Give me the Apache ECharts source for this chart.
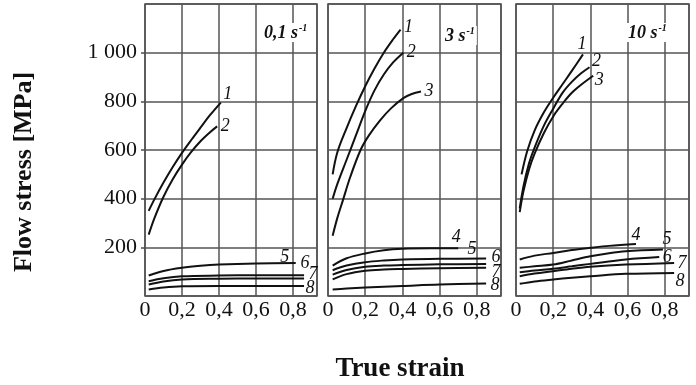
<!DOCTYPE html>
<html>
<head>
<meta charset="utf-8">
<script src="https://cdn.jsdelivr.net/npm/echarts@6/dist/echarts.min.js"></script>
<style>
  html, body { margin: 0; padding: 0; background: #fff; }
  #chart { width: 696px; height: 385px; }
</style>
</head>
<body>
<div id="chart"></div>
<script>
// Flow stress vs. true strain at three strain rates, curves 1-8 per panel.
const rateLabels = ['0,1', '3', '10'];
const strainMax = 0.93;
const stressMax = 1200;

// strain rate 0.1 1/s  — [true strain, flow stress MPa]
const r01_c1 = [[0.02,350],[0.05,396],[0.1,466],[0.15,530],[0.2,588],[0.25,641],[0.3,692],[0.35,742],[0.41,795]];
const r01_c2 = [[0.02,252],[0.05,318],[0.1,408],[0.15,480],[0.2,540],[0.25,592],[0.3,636],[0.35,672],[0.39,697]];
const r01_c5 = [[0.02,84],[0.1,103],[0.2,116],[0.3,124],[0.4,129],[0.6,134],[0.815,136]];
const r01_c6 = [[0.02,61],[0.1,73],[0.2,81],[0.4,84],[0.6,85],[0.86,85]];
const r01_c7 = [[0.02,47],[0.1,60],[0.2,68],[0.4,71],[0.6,72],[0.86,72]];
const r01_c8 = [[0.02,27],[0.1,35],[0.2,40],[0.4,41],[0.6,41],[0.86,41]];

// strain rate 3 1/s
const r3_c1 = [[0.025,500],[0.05,590],[0.1,690],[0.15,780],[0.2,862],[0.25,935],[0.3,1000],[0.35,1055],[0.39,1095]];
const r3_c2 = [[0.025,400],[0.05,460],[0.1,560],[0.15,660],[0.2,760],[0.25,845],[0.3,910],[0.35,960],[0.405,1000]];
const r3_c3 = [[0.025,248],[0.05,320],[0.08,393],[0.12,490],[0.175,600],[0.22,660],[0.28,722],[0.34,772],[0.405,813],[0.45,830],[0.5,840]];
const r3_c4 = [[0.025,125],[0.1,155],[0.2,175],[0.3,188],[0.4,194],[0.55,196],[0.7,196]];
const r3_c5 = [[0.025,106],[0.1,125],[0.2,139],[0.3,146],[0.4,150],[0.6,153],[0.85,154]];
const r3_c6 = [[0.025,88],[0.1,107],[0.2,120],[0.3,125],[0.4,127],[0.6,130],[0.85,132]];
const r3_c7 = [[0.025,68],[0.1,90],[0.2,104],[0.3,109],[0.4,111],[0.6,114],[0.85,116]];
const r3_c8 = [[0.025,27],[0.1,31],[0.2,35],[0.4,41],[0.6,47],[0.85,51]];

// strain rate 10 1/s
const r10_c1 = [[0.03,500],[0.06,595],[0.1,680],[0.15,755],[0.2,815],[0.25,870],[0.3,925],[0.36,993]];
const r10_c2 = [[0.02,360],[0.04,450],[0.07,545],[0.1,610],[0.15,700],[0.2,770],[0.25,835],[0.3,880],[0.35,915],[0.395,940]];
const r10_c3 = [[0.02,345],[0.04,430],[0.07,520],[0.1,585],[0.15,670],[0.2,738],[0.25,790],[0.3,835],[0.35,868],[0.415,905]];
const r10_c4 = [[0.02,150],[0.1,166],[0.2,177],[0.3,189],[0.4,198],[0.5,206],[0.645,214]];
const r10_c5 = [[0.02,116],[0.1,122],[0.2,129],[0.3,146],[0.4,163],[0.5,176],[0.59,184],[0.79,191]];
const r10_c6 = [[0.02,98],[0.1,105],[0.2,112],[0.3,122],[0.4,132],[0.59,150],[0.77,160]];
const r10_c7 = [[0.02,81],[0.1,92],[0.2,102],[0.3,112],[0.4,120],[0.59,129],[0.85,136]];
const r10_c8 = [[0.02,50],[0.1,60],[0.2,68],[0.3,75],[0.4,81],[0.59,91],[0.85,95]];

const SERIF = '"Liberation Serif", "Times New Roman", serif';
const INK = '#111';
const GRIDLINE = '#555';

// panel index, curve number, data, end-label offset [dx, dy]
const curves = [
  [0, '1', r01_c1, [7, -8]], [0, '2', r01_c2, [8, 0]],
  [0, '5', r01_c5, [-11, -6]], [0, '6', r01_c6, [1, -12]],
  [0, '7', r01_c7, [9, -4]], [0, '8', r01_c8, [6, 2]],
  [1, '1', r3_c1, [8, -2]], [1, '2', r3_c2, [8, 0]], [1, '3', r3_c3, [8, 0]],
  [1, '4', r3_c4, [-2, -11]], [1, '5', r3_c5, [-14, -9]], [1, '6', r3_c6, [10, -7]],
  [1, '7', r3_c7, [10, 4]], [1, '8', r3_c8, [9, 2]],
  [2, '1', r10_c1, [-1, -10]], [2, '2', r10_c2, [7, -6]], [2, '3', r10_c3, [6, 4]],
  [2, '4', r10_c4, [0, -9]], [2, '5', r10_c5, [4, -10]], [2, '6', r10_c6, [8, 0]],
  [2, '7', r10_c7, [8, 0]], [2, '8', r10_c8, [6, 8]]
];

const gridBoxes = [
  { left: 145, width: 172 },
  { left: 328, width: 173 },
  { left: 516, width: 173 }
];

const grid = gridBoxes.map(b => ({
  left: b.left, width: b.width, top: 4, height: 292,
  show: true, borderColor: '#4d4d4d', borderWidth: 1.5, backgroundColor: 'transparent'
}));

const strainFmt = v => (v === 0 ? '0' : v.toFixed(1).replace('.', ','));
const stressFmt = v => (v === 1000 ? '1 000' : String(v));

const xAxis = gridBoxes.map((b, i) => ({
  type: 'value', gridIndex: i, min: 0, max: strainMax, interval: 0.2,
  axisLine: { show: false }, axisTick: { show: false },
  splitLine: { show: true, lineStyle: { color: GRIDLINE, width: 1.5 } },
  axisLabel: {
    formatter: strainFmt, showMaxLabel: false, margin: 3,
    fontFamily: SERIF, fontSize: 22, color: INK
  }
}));

const yAxis = gridBoxes.map((b, i) => ({
  type: 'value', gridIndex: i, min: 0, max: stressMax, interval: 200,
  axisLine: { show: false },
  axisTick: { show: i === 0, length: 4, lineStyle: { color: '#4d4d4d', width: 1.5 } },
  splitLine: { show: true, lineStyle: { color: GRIDLINE, width: 1.5 } },
  axisLabel: {
    show: i === 0, formatter: stressFmt, showMinLabel: false, showMaxLabel: false,
    margin: 8, fontFamily: SERIF, fontSize: 22, color: INK
  }
}));

const series = curves.map(([p, id, data, off]) => ({
  type: 'line', xAxisIndex: p, yAxisIndex: p, data: data,
  smooth: 0.35, symbol: 'none', silent: true, z: 3,
  lineStyle: { color: INK, width: 2 },
  endLabel: {
    show: true, formatter: id, distance: 0, offset: off,
    align: 'center', verticalAlign: 'middle',
    fontFamily: SERIF, fontStyle: 'italic', fontSize: 18, color: INK
  }
}));

const rateRich = {
  a: { fontFamily: SERIF, fontStyle: 'italic', fontWeight: 'bold', fontSize: 18, color: INK, lineHeight: 20 },
  s: { fontFamily: SERIF, fontStyle: 'italic', fontWeight: 'bold', fontSize: 10, color: INK, lineHeight: 20, verticalAlign: 'top', padding: [0, 0, 0, 1] }
};
const ratePos = [[262, 23], [443, 26], [626, 23]];
const title = rateLabels.map((r, i) => ({
  text: '{a|' + r + ' s}{s|-1}',
  left: ratePos[i][0], top: ratePos[i][1], padding: [0, 2],
  backgroundColor: '#fff',
  textStyle: { rich: rateRich }
}));

const chart = echarts.init(document.getElementById('chart'), null, { renderer: 'canvas' });
chart.setOption({
  animation: false,
  backgroundColor: '#fff',
  title: title,
  grid: grid,
  xAxis: xAxis,
  yAxis: yAxis,
  series: series,
  graphic: [
    {
      type: 'text', x: 24, y: 172, rotation: Math.PI / 2,
      style: { text: 'Flow stress [MPa]', font: 'bold 26px ' + SERIF, fill: INK, align: 'center', verticalAlign: 'middle' }
    },
    {
      type: 'text', x: 400, y: 369,
      style: { text: 'True strain', font: 'bold 27px ' + SERIF, fill: INK, align: 'center', verticalAlign: 'middle' }
    }
  ]
});
</script>
</body>
</html>
